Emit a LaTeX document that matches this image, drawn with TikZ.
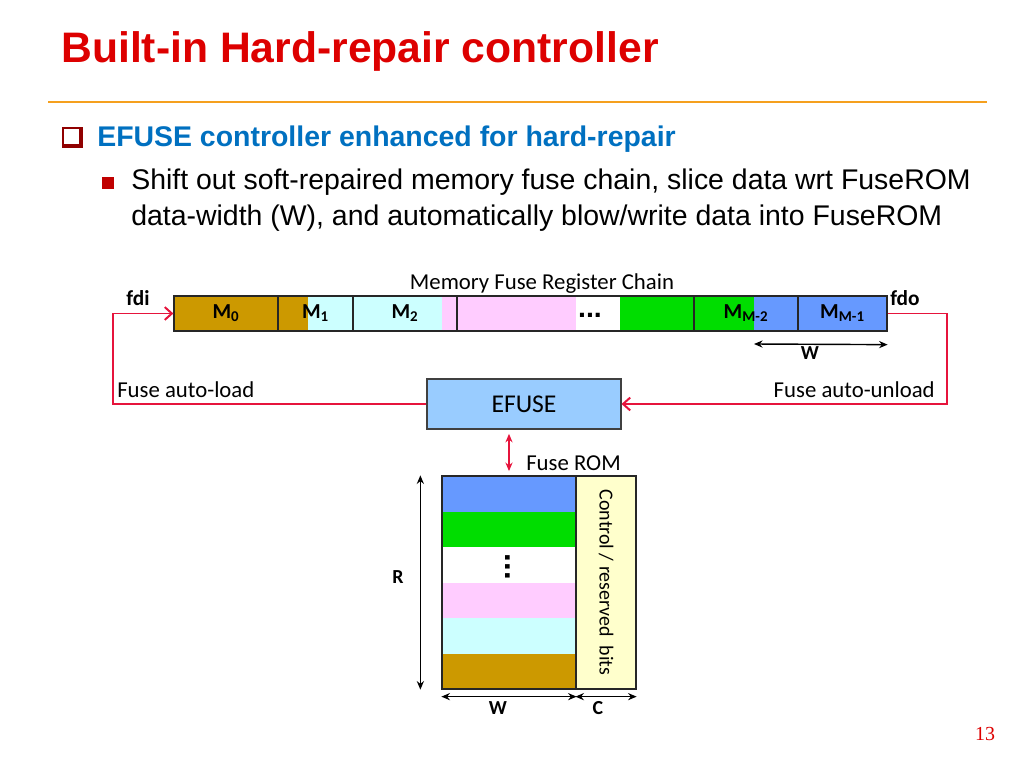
\documentclass[tikz,border=0pt]{standalone}
\usepackage{fontspec}
\setmainfont{Liberation Sans}
\newfontfamily\calib{Carlito}
\newfontfamily\timesf{Liberation Serif}
\usepackage{xcolor}
\usepackage{tikz}
\usetikzlibrary{arrows.meta, positioning}
\definecolor{titlered}{RGB}{221,0,0}
\definecolor{rulegold}{RGB}{245,160,30}
\definecolor{headblue}{RGB}{0,112,192}
\definecolor{bulletred}{RGB}{192,0,0}
\definecolor{fusebrown}{RGB}{204,153,0}
\definecolor{fusecyan}{RGB}{204,255,255}
\definecolor{fusepink}{RGB}{255,204,255}
\definecolor{fusegreen}{RGB}{0,221,0}
\definecolor{fuseblue}{RGB}{102,153,255}
\definecolor{efuseblue}{RGB}{153,204,255}
\definecolor{ctrlyellow}{RGB}{255,255,204}
\definecolor{linkred}{RGB}{230,20,60}
\newcommand{\fsz}[1]{\fontsize{#1}{#1}\selectfont}
\newcommand{\msub}[1]{\textsubscript{#1}}
\def\px{0.703125pt}
\tikzset{
    cell/.style={rectangle, draw=black!85, line width=0.9pt, inner sep=0pt, minimum height=35*\px, font=\calib\bfseries\fsz{15}},
    efusebox/.style={rectangle, draw=black!75, fill=efuseblue, line width=0.8pt, inner sep=0pt, font=\calib\fsz{18}},
    rombox/.style={rectangle, draw=black!85, line width=0.9pt, inner sep=0pt},
    labelstyle/.style={inner sep=0pt, font=\calib\fsz{16}},
    dimlabel/.style={inner sep=0pt, font=\calib\bfseries\fsz{14}},
    dimarrow/.style={{Stealth[length=6pt,width=5pt]}-{Stealth[length=6pt,width=5pt]}, line width=1pt},
    feed/.style={-{Straight Barb[length=5pt,width=9pt]}, draw=linkred, line width=1.4pt},
    romlink/.style={{Stealth[length=6pt,width=5pt]}-{Stealth[length=6pt,width=5pt]}, draw=linkred, line width=1.2pt, shorten <=3pt, shorten >=3pt},
}
\begin{document}
\begin{tikzpicture}[x=\px, y=-\px]
\useasboundingbox (0,0) rectangle (1024,768);
% slide heading
\node[anchor=base west, inner sep=0pt, text=titlered, font=\bfseries\fsz{30}] (title) at (61,63) {Built-in Hard-repair controller};
\draw[rulegold, line width=1.6pt] (48,102) -- (987,102);
\fill[bulletred!75!black] (62,127) rectangle (83,148);
\fill[white] (64,129) rectangle (79,144);
\node[anchor=base west, inner sep=0pt, text=headblue, font=\bfseries\fsz{20}] (head) at (97,147) {EFUSE controller enhanced for hard-repair};
\fill[bulletred] (102,177) rectangle (114,189);
\node[anchor=base west, inner sep=0pt, font=\fsz{20}] (itema) at (131,190) {Shift out soft-repaired memory fuse chain, slice data wrt FuseROM};
\node[anchor=base west, inner sep=0pt, font=\fsz{20}] (itemb) at (131,226) {data-width (W), and automatically blow/write data into FuseROM};
% fuse register chain
\fill[fusebrown] (174,296) rectangle (308,331);
\fill[fusecyan] (308,296) rectangle (442,331);
\fill[fusepink] (442,296) rectangle (576,331);
\fill[fusegreen] (620,296) rectangle (754,331);
\fill[fuseblue] (754,296) rectangle (887,331);
\node[cell, minimum width=104*\px] (m0) at (226,313.5) {M\msub{0}};
\node[cell, minimum width=75*\px] (m1) at (315.5,313.5) {M\msub{1}};
\node[cell, minimum width=104*\px] (m2) at (405,313.5) {M\msub{2}};
\node[cell, minimum width=237*\px] (mdots) at (575.5,313.5) {};
\node[cell, minimum width=104*\px] (mm2) at (746,313.5) {M\msub{M-2}};
\node[cell, minimum width=89*\px] (mm1) at (842.5,313.5) {M\msub{M-1}};
\node[inner sep=0pt, font=\bfseries\fsz{20}] (chaindots) at (590,315.5) {...};
\node[labelstyle, anchor=base] (chainname) at (542,289) {Memory Fuse Register Chain};
\node[anchor=base, inner sep=0pt, font=\calib\bfseries\fsz{15}] (fdi) at (138,305) {fdi};
\node[anchor=base, inner sep=0pt, font=\calib\bfseries\fsz{15}] (fdo) at (905,306) {fdo};
\coordinate (wchain) at (754,344);
\draw[dimarrow] (wchain) -- ([yshift=-13*\px]mm1.south east);
\node[dimlabel] (wchainlabel) at (810,353) {W};
% efuse controller and feedback
\node[efusebox, minimum width=194*\px, minimum height=50*\px] (efuse) at (524,404) {EFUSE};
\coordinate (loadturn) at (113,313.5);
\coordinate (unloadturn) at (947,313.5);
\draw[feed] (efuse.west) -| (loadturn) -- (m0.west);
\draw[feed] (mm1.east) -- (unloadturn) |- (efuse.east);
\node[labelstyle, anchor=base west] (autoload) at (117,397) {Fuse auto-load};
\node[labelstyle, anchor=base east] (autounload) at (935,397) {Fuse auto-unload};
% fuse rom
\foreach \c [count=\i from 0] in {fuseblue, fusegreen, white, fusepink, fusecyan, fusebrown}
    \fill[\c] (442,476+35.5*\i) rectangle ++(134,35.5);
\node[rombox, minimum width=134*\px, minimum height=213*\px] (rom) at (509,582.5) {};
\node[rombox, fill=ctrlyellow, minimum width=60*\px, minimum height=213*\px] (ctrl) at (606,582.5) {};
\node[labelstyle, font=\calib\fsz{14}, rotate=-90] (ctrltext) at (ctrl.center) {Control / reserved\ \ bits};
\node[inner sep=0pt, font=\bfseries\fsz{22}, rotate=-90] (romdots) at (508,567) {...};
\draw[romlink] (rom.north |- efuse.south) -- (rom.north);
\node[labelstyle, anchor=base west] (romname) at (526,470) {Fuse ROM};
\draw[dimarrow] ([xshift=-21*\px]rom.north west) -- ([xshift=-21*\px]rom.south west);
\node[dimlabel] (rlabel) at (398,577) {R};
\draw[dimarrow] ([yshift=-7*\px]rom.south west) -- ([yshift=-7*\px]rom.south east);
\draw[dimarrow] ([yshift=-7*\px]ctrl.south west) -- ([yshift=-7*\px]ctrl.south east);
\node[dimlabel] (wlabel) at (498,708) {W};
\node[dimlabel] (clabel) at (598,708) {C};
\node[anchor=base, inner sep=0pt, text=titlered, font=\timesf\fsz{14}] (pagenum) at (985,740) {13};
\end{tikzpicture}
\end{document}
